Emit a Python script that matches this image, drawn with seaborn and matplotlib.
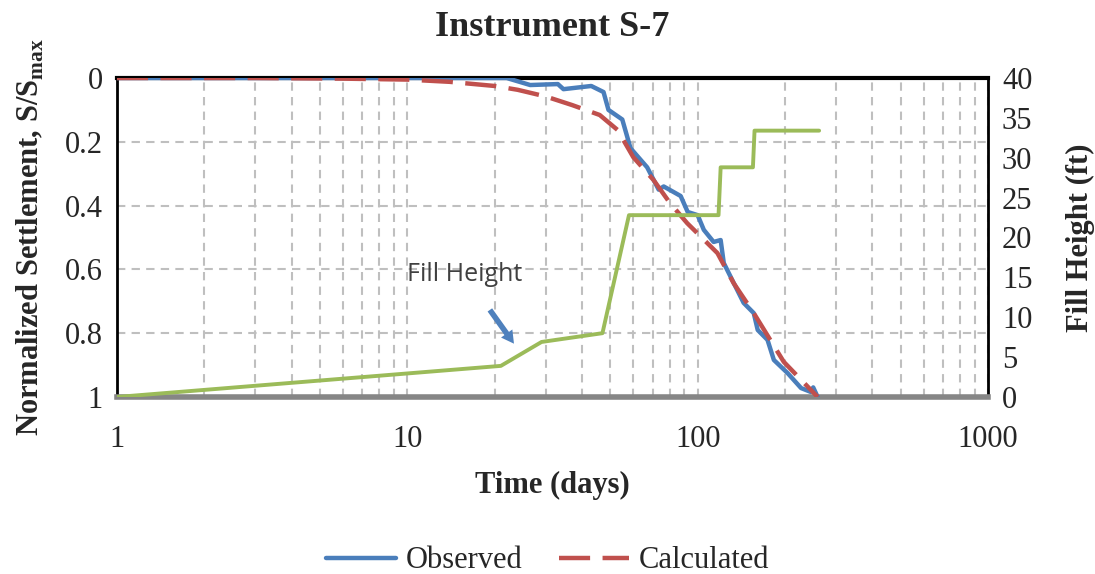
import matplotlib
matplotlib.use('Agg')
import matplotlib.pyplot as plt
import seaborn as sns
import pandas as pd
from matplotlib.ticker import FixedLocator, LogLocator, NullFormatter

# observed settlement (normalized)
obs_time = [1, 5, 15, 22, 26.5, 33, 34.5, 43, 47.4, 49.3, 55, 58.7, 67, 73.4, 76.4,
            87.4, 92.4, 100, 105, 113.5, 120, 123, 130, 144, 156, 161, 174, 183,
            204, 227, 245, 250, 259]
obs_settle = [0, 0, 0, 0, 0.022, 0.019, 0.035, 0.025, 0.044, 0.10, 0.13, 0.22, 0.28,
              0.35, 0.34, 0.37, 0.42, 0.43, 0.476, 0.514, 0.508, 0.58, 0.624, 0.705,
              0.737, 0.79, 0.821, 0.884, 0.925, 0.972, 0.984, 0.97, 1.0]

# calculated settlement
calc_time = [1, 3, 6, 10, 14, 20, 24, 30, 37, 46, 53, 60, 70.5, 80, 92, 117, 133,
             156, 198, 259]
calc_settle = [0, 0, 0.002, 0.005, 0.012, 0.025, 0.037, 0.058, 0.085, 0.116, 0.163,
               0.248, 0.32, 0.39, 0.455, 0.549, 0.643, 0.737, 0.89, 1.0]

# fill height (ft)
fill_time = [1, 21, 29, 47, 58, 118, 120, 155, 157, 262]
fill_height = [0, 3.9, 6.9, 8.0, 22.8, 22.8, 28.8, 28.8, 33.4, 33.4]

obs = pd.DataFrame({'time': obs_time, 'settle': obs_settle})
calc = pd.DataFrame({'time': calc_time, 'settle': calc_settle})
fill = pd.DataFrame({'time': fill_time, 'fill': fill_height})

sns.set_style('white')
plt.rcParams['font.family'] = ['Liberation Serif', 'DejaVu Serif']
plt.rcParams['mathtext.fontset'] = 'custom'
plt.rcParams['mathtext.rm'] = 'Liberation Serif'
plt.rcParams['mathtext.bf'] = 'Liberation Serif:bold'

fig = plt.figure(figsize=(10.95, 5.74), dpi=100)
ax = fig.add_axes([0.1068, 0.3084, 0.7955, 0.5557])

grid_kw = dict(color='#bfbfbf', linestyle=(0, (4, 3)), linewidth=1.5)

sns.lineplot(data=obs, x='time', y='settle', ax=ax, color='#4a7ebb', linewidth=3.2,
             estimator=None, sort=False, label='Observed', zorder=4)
sns.lineplot(data=calc, x='time', y='settle', ax=ax, color='#c0504d', linewidth=3.2,
             estimator=None, sort=False, label='Calculated', zorder=5)
ax.lines[1].set_dashes((7, 2.8))

ax.set_xscale('log')
ax.set_xlim(1, 1000)
ax.set_ylim(1, 0)
ax.xaxis.set_major_locator(FixedLocator([1, 10, 100, 1000]))
ax.set_xticklabels(['1', '10', '100', '1000'])
ax.xaxis.set_minor_locator(LogLocator(base=10, subs=range(2, 10), numticks=20))
ax.xaxis.set_minor_formatter(NullFormatter())
ax.set_yticks([0, 0.2, 0.4, 0.6, 0.8, 1.0])
ax.set_yticklabels(['0', '0.2', '0.4', '0.6', '0.8', '1'])
ax.grid(True, which='both', axis='x', **grid_kw)
ax.grid(True, which='major', axis='y', **grid_kw)
ax.tick_params(axis='y', which='both', length=0, labelsize=22, pad=10)
ax.tick_params(axis='x', which='both', length=0, labelsize=22, pad=20)

ax.set_xlabel('Time (days)', fontsize=22, fontweight='bold', labelpad=12)
ax.set_ylabel('Normalized Settlement, S/S$_{\\mathbf{max}}$', fontsize=22,
              fontweight='bold', labelpad=14)
ax.set_title('Instrument S-7', fontsize=26, fontweight='bold', pad=30)

for side in ['left', 'right']:
    ax.spines[side].set_color('black')
    ax.spines[side].set_linewidth(2)
ax.spines['top'].set_color('black')
ax.spines['top'].set_linewidth(3)
ax.spines['bottom'].set_color('#868686')
ax.spines['bottom'].set_linewidth(4)

handles, labels = ax.get_legend_handles_labels()
ax.get_legend().remove()

ax2 = ax.twinx()
sns.lineplot(data=fill, x='time', y='fill', ax=ax2, color='#9bbb59', linewidth=2.8,
             estimator=None, sort=False)
ax2.set_ylim(0, 40)
ax2.set_yticks(range(0, 45, 5))
ax2.set_ylabel('Fill Height (ft)', fontsize=22, fontweight='bold', labelpad=24)
ax2.tick_params(axis='y', length=0, labelsize=22, pad=10)
ax2.grid(False)
for sp in ax2.spines.values():
    sp.set_visible(False)

ax.text(15.8, 0.617, 'Fill Height', fontsize=18, color='#404040', family='Open Sans',
        ha='center', va='center')
ax.annotate('', xy=(23.6, 0.84), xytext=(19.0, 0.72),
            arrowprops=dict(arrowstyle='simple,head_width=1.0,head_length=0.9,tail_width=0.4',
                            color='#4f81bd', lw=0))

fig.legend(handles, labels, loc='lower center', bbox_to_anchor=(0.5, -0.05), ncol=2,
           frameon=False, fontsize=22, handlelength=2.3, columnspacing=1.2,
           handletextpad=0.3)

plt.savefig('out.png', dpi=100)
